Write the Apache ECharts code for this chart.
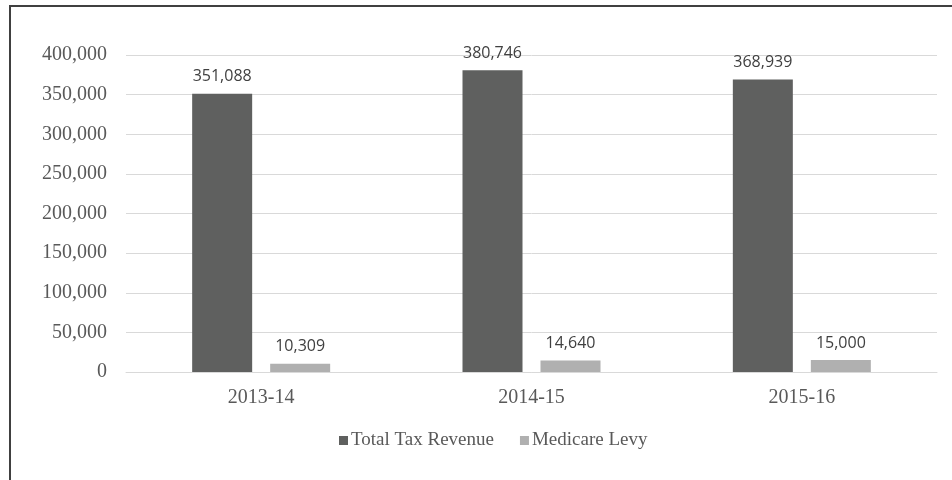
<!DOCTYPE html>
<html><head><meta charset="utf-8">
<script src="https://cdn.jsdelivr.net/npm/echarts@6/dist/echarts.min.js"></script>
<style>html,body{margin:0;padding:0;background:#fff}#c{width:952px;height:480px}
#frame{position:absolute;left:9px;top:5px;width:960px;height:500px;border-left:2px solid #404040;border-top:2px solid #404040;pointer-events:none}</style>
</head><body><div id="c"></div><div id="frame"></div>
<script>
const categories = ['2013-14', '2014-15', '2015-16'];
const totalTaxRevenue = [351088, 380746, 368939];
const medicareLevy = [10309, 14640, 15000];
const seriesNames = ['Total Tax Revenue', 'Medicare Levy'];

const chart = echarts.init(document.getElementById('c'), null, {renderer: 'canvas'});
const fmt = v => v.toLocaleString('en-US');
const lbl = {show: true, position: 'top', distance: 9, color: '#404040', fontFamily: 'Open Sans', fontSize: 16, formatter: p => fmt(p.value)};
chart.setOption({
  animation: false,
  grid: {left: 126, right: 15, top: 55, bottom: 108},
  legend: {top: 426, left: 334, itemWidth: 9, itemHeight: 9, itemGap: 26, icon: 'rect',
    textStyle: {fontFamily: 'Liberation Serif', fontSize: 19, color: '#595959', padding: [0, 0, 0, -2]}, data: seriesNames},
  xAxis: {type: 'category', data: categories,
    axisLine: {lineStyle: {color: '#d9d9d9'}}, axisTick: {show: false},
    axisLabel: {fontFamily: 'Liberation Serif', fontSize: 20, color: '#595959', margin: 16}},
  yAxis: {type: 'value', min: 0, max: 400000, interval: 50000,
    axisLine: {show: false}, axisTick: {show: false},
    splitLine: {lineStyle: {color: '#d9d9d9'}},
    axisLabel: {fontFamily: 'Liberation Serif', fontSize: 20, color: '#595959', margin: 19, formatter: v => fmt(v)}},
  series: [
    {name: seriesNames[0], type: 'bar', data: totalTaxRevenue, barWidth: 60, barGap: '30%', itemStyle: {color: '#5f605f'}, label: lbl},
    {name: seriesNames[1], type: 'bar', data: medicareLevy, barWidth: 60, itemStyle: {color: '#b0b0b0'}, label: lbl}
  ]
});
</script></body></html>
